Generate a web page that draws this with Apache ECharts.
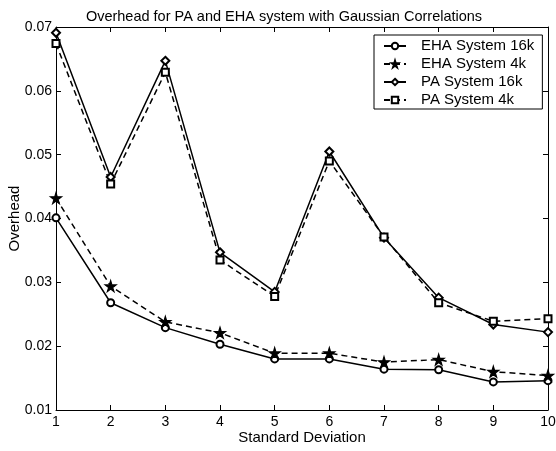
<!DOCTYPE html>
<html>
<head>
<meta charset="utf-8">
<script src="https://cdn.jsdelivr.net/npm/echarts@6/dist/echarts.min.js"></script>
<style>
html, body { margin: 0; padding: 0; background: #fff; }
#chart { width: 556px; height: 451px; }
</style>
</head>
<body>
<div id="chart"></div>
<script>
var chart = echarts.init(document.getElementById('chart'));

// x values: standard deviation
var stdDev = [1, 2, 3, 4, 5, 6, 7, 8, 9, 10];
var eha16k = [0.0401, 0.0268, 0.0229, 0.0203, 0.0180, 0.0180, 0.0164, 0.0163, 0.0144, 0.0146];
var eha4k  = [0.0432, 0.0294, 0.0238, 0.0221, 0.0189, 0.0189, 0.0175, 0.0179, 0.0160, 0.0154];
var pa16k  = [0.0691, 0.0465, 0.0647, 0.0347, 0.0285, 0.0505, 0.0370, 0.0276, 0.0234, 0.0222];
var pa4k   = [0.0674, 0.0454, 0.0629, 0.0335, 0.0278, 0.0490, 0.0371, 0.0268, 0.0239, 0.0243];

var starPath = 'path://M50,0 L61,35 L98,35 L68,57 L79,91 L50,70 L21,91 L32,57 L2,35 L39,35 Z';
var fontFam = 'Liberation Sans, Arial, sans-serif';

function pairs(vals) {
    return stdDev.map(function (x, i) { return [x, vals[i]]; });
}

function makeSeries(name, vals, symbol, size, dashed) {
    return {
        name: name,
        type: 'line',
        data: pairs(vals),
        symbol: symbol,
        symbolSize: size,
        showAllSymbol: true,
        animation: false,
        lineStyle: { color: '#000', width: 1.5, type: dashed ? [6, 4] : 'solid' },
        itemStyle: { color: '#000', borderColor: '#000', borderWidth: 1.2 }
    };
}

var option = {
    animation: false,
    title: {
        text: 'Overhead for PA and EHA system with Gaussian Correlations',
        left: 279,
        top: 4,
        textAlign: 'center',
        textStyle: { fontSize: 14.5, fontWeight: 'normal', color: '#000', fontFamily: fontFam }
    },
    legend: {
        orient: 'vertical',
        left: 374,
        top: 35,
        padding: [3, 8, 1, 9],
        itemGap: 2,
        itemWidth: 22,
        itemHeight: 8,
        borderColor: '#000',
        borderWidth: 1,
        backgroundColor: '#fff',
        textStyle: { fontSize: 15, lineHeight: 16, color: '#000', fontFamily: fontFam, padding: [0, 0, 0, 10] },
        data: ['EHA System 16k', 'EHA System 4k', 'PA System 16k', 'PA System 4k']
    },
    grid: { left: 56, right: 8, top: 27, bottom: 41, outerBoundsMode: 'none', containLabel: false },
    xAxis: [{
        type: 'value',
        min: 1, max: 10, interval: 1,
        name: 'Standard Deviation',
        nameLocation: 'middle',
        nameGap: 20,
        nameMoveOverlap: false,
        nameTextStyle: { fontSize: 15, color: '#000', fontFamily: fontFam },
        axisLine: { lineStyle: { color: '#000', width: 1 } },
        axisTick: { inside: true, length: 5, lineStyle: { color: '#000' } },
        axisLabel: { fontSize: 14, color: '#000', margin: 5, fontFamily: fontFam },
        splitLine: { show: false }
    }, {
        type: 'value',
        position: 'top',
        min: 1, max: 10, interval: 1,
        axisLine: { lineStyle: { color: '#000', width: 1 } },
        axisTick: { inside: true, length: 5, lineStyle: { color: '#000' } },
        axisLabel: { show: false },
        splitLine: { show: false }
    }],
    yAxis: [{
        type: 'value',
        min: 0.01, max: 0.07, interval: 0.01,
        name: 'Overhead',
        nameLocation: 'middle',
        nameGap: 34,
        nameMoveOverlap: false,
        nameTextStyle: { fontSize: 15, color: '#000', fontFamily: fontFam },
        axisLine: { show: true, lineStyle: { color: '#000', width: 1 } },
        axisTick: { show: true, inside: true, length: 5, lineStyle: { color: '#000' } },
        axisLabel: {
            fontSize: 14, color: '#000', margin: 4, fontFamily: fontFam,
            formatter: function (v) { return +v.toFixed(2) + ''; }
        },
        splitLine: { show: false }
    }, {
        type: 'value',
        position: 'right',
        min: 0.01, max: 0.07, interval: 0.01,
        axisLine: { show: true, lineStyle: { color: '#000', width: 1 } },
        axisTick: { show: true, inside: true, length: 5, lineStyle: { color: '#000' } },
        axisLabel: { show: false },
        splitLine: { show: false }
    }],
    series: [
        makeSeries('EHA System 16k', eha16k, 'emptyCircle', 7, false),
        makeSeries('EHA System 4k', eha4k, starPath, 11, true),
        makeSeries('PA System 16k', pa16k, 'emptyDiamond', 8, false),
        makeSeries('PA System 4k', pa4k, 'emptyRect', 7, true)
    ]
};

chart.setOption(option);
</script>
</body>
</html>
